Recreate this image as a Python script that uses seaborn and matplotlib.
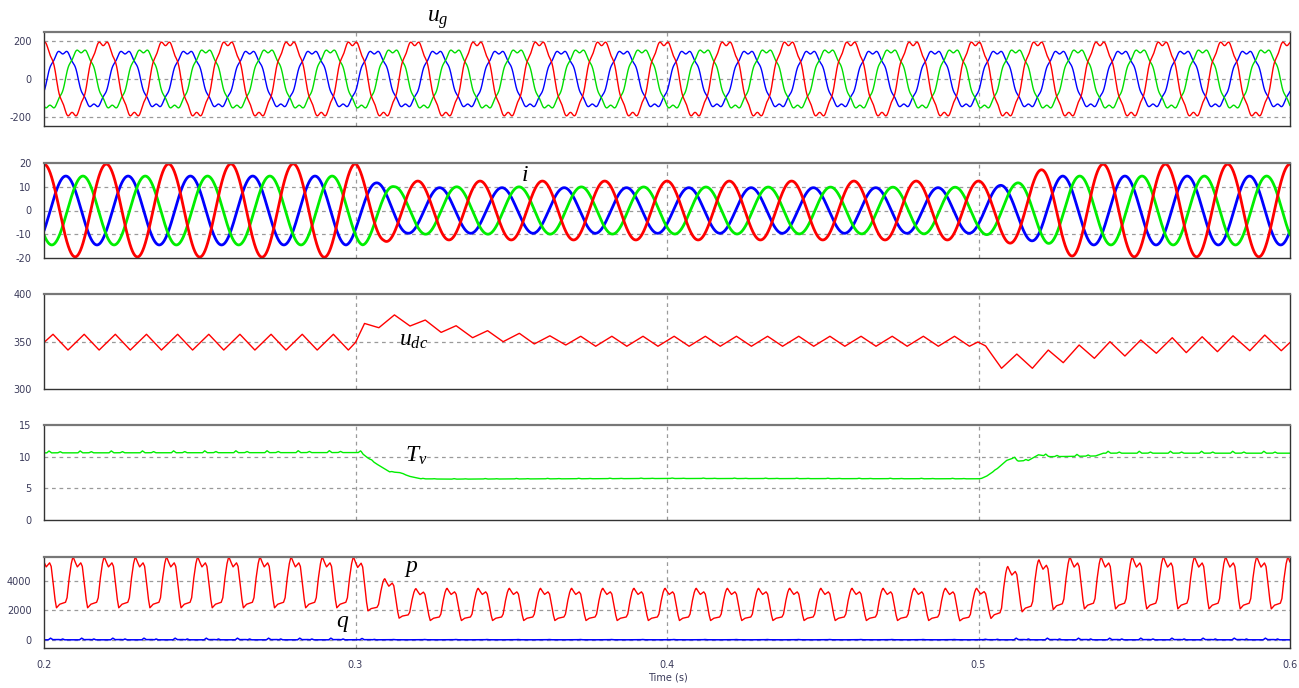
import numpy as np
import pandas as pd
import matplotlib
matplotlib.use("Agg")
import matplotlib.pyplot as plt
import seaborn as sns

# ------------------------------------------------------------------
# Values
# ------------------------------------------------------------------
t_range = [0.2, 0.6]
n_samples = 8001
f_line = 50.0                                   # fundamental (Hz)
f_ripple = 100.0                                # double-frequency ripple (Hz)

# grid voltage u_g (blue, green, red): amplitude, peak instant, harmonics
ug_colors = ["#0000ff", "#00dd00", "#ff0000"]
ug_amp = [153, 160, 204]
ug_peak_t = [0.2060, 0.2119, 0.1990]
ug_harm_order = [3, 7]
ug_harm_rel = [-0.08, -0.06]

# currents i (blue, green, red): peak instants and amplitude envelopes
i_colors = ["#0000ff", "#00ee00", "#ff0000"]
i_peak_t = [0.2070, 0.2125, 0.2000]
i_env_t = [
    [0.200, 0.297, 0.3066, 0.3166, 0.500, 0.510, 0.520, 0.527, 0.600],
    [0.200, 0.3023, 0.3125, 0.500, 0.512, 0.522, 0.530, 0.600],
    [0.200, 0.300, 0.309, 0.319, 0.504, 0.5135, 0.524, 0.534, 0.600],
]
i_env_a = [
    [14.5, 14.5, 11.7, 9.6, 9.6, 11.0, 13.5, 14.5, 14.5],
    [14.5, 14.5, 10.0, 9.8, 11.5, 13.8, 14.5, 14.5],
    [19.5, 19.7, 13.1, 12.4, 12.4, 14.5, 18.7, 19.5, 19.5],
]

# DC-link voltage u_dc: vertices (time, value)
udc_pre_peak = [357.6] * 10
udc_pre_trough = [341.0] * 10
udc_trans_t = [0.3000, 0.3029, 0.3075, 0.3125, 0.3175, 0.3224, 0.3275, 0.3323,
               0.3376, 0.3424, 0.3474, 0.3526, 0.3574, 0.3624, 0.3675]
udc_trans_v = [349.0, 369.0, 364.5, 378.0, 366.3, 372.6, 359.6, 366.6,
               354.0, 361.4, 349.8, 358.6, 347.4, 356.0, 346.3]
udc_mid_peak = [355.5] * 13
udc_mid_trough = [345.0] * 13
udc_post_t = [0.4998, 0.5023, 0.5074, 0.5123, 0.5173, 0.5224, 0.5272, 0.5323,
              0.5372, 0.5422, 0.5470, 0.5521, 0.5571, 0.5622, 0.5667, 0.5718,
              0.5767, 0.5817, 0.5871, 0.5919, 0.5972, 0.6000]
udc_post_v = [349.5, 345.3, 321.8, 336.8, 321.8, 341.0, 327.7, 346.3,
              332.3, 349.8, 334.7, 351.6, 337.6, 354.0, 338.3, 355.0,
              339.3, 356.0, 340.3, 356.8, 340.3, 349.0]

# virtual inertia T_v: base curve knots and ripple
tv_t = [0.200, 0.3018, 0.3034, 0.3066, 0.3109, 0.3141, 0.3173, 0.3210, 0.3300,
        0.4000, 0.5000, 0.5016, 0.5053, 0.5090, 0.5110, 0.5128, 0.5160, 0.5192,
        0.5230, 0.5375, 0.5400, 0.6000]
tv_v = [10.6, 10.65, 10.0, 8.9, 7.6, 7.5, 6.9, 6.5, 6.45,
        6.55, 6.5, 6.6, 7.8, 9.4, 9.75, 9.3, 9.4, 10.3,
        10.0, 10.1, 10.55, 10.55]
ripple_t = [0.200, 0.300, 0.310, 0.500, 0.510, 0.600]
tv_ripple = [0.30, 0.30, 0.08, 0.08, 0.30, 0.30]
q_ripple = [110, 110, 20, 20, 110, 110]
tv_shape_phi = [0.0, 0.15, 0.22, 0.30, 0.50, 0.58, 0.65, 1.0]
tv_shape_f = [0.0, 0.0, 1.0, 0.0, 0.0, 0.6, 0.0, 0.0]
q_base = 15
q_shape_phi = [0.0, 0.20, 0.27, 0.34, 0.50, 0.60, 0.66, 0.72, 1.0]
q_shape_f = [0.0, 0.0, 1.0, 0.1, 0.2, 0.0, 0.5, 0.0, 0.0]

# active power p: one-cycle shape (0=trough, 1=peak) and per-cycle extremes
p_first_peak_t = 0.1994
p_shape_phi = [0.00, 0.05, 0.13, 0.24, 0.29, 0.35, 0.41, 0.46, 0.56, 0.66,
               0.75, 0.80, 0.86, 0.93, 0.97, 1.00]
p_shape_f = [1.00, 0.92, 0.81, 0.89, 0.82, 0.52, 0.18, 0.00, 0.07, 0.09,
             0.11, 0.20, 0.55, 0.86, 0.97, 1.00]
p_peaks = [5600] * 10 + [5600, 4150, 3480] + [3500] * 18 + [4980, 5430] + [5600] * 8
p_troughs = [2180] * 10 + [1975, 1480] + [1320] * 17 + [1300, 1460, 1908, 2065] + [2110] * 7

# axes: ticks, limits, label text
panel_ylims = [(-247, 247), (-20, 20), (300, 400), (0, 15), (-540, 5620)]
panel_yticks = [[-200, 0, 200], [-20, -10, 0, 10, 20], [300, 350, 400],
                [0, 5, 10, 15], [0, 2000, 4000]]
x_ticks = [0.2, 0.3, 0.4, 0.5, 0.6]
x_tick_labels = ["0.2", "0.3", "0.4", "0.5", "0.6"]
x_grid = [0.3, 0.4, 0.5]
x_label = "Time (s)"
panel_names = [r"$u_g$", r"$i$", r"$u_{dc}$", r"$T_v$", r"$p$", r"$q$"]

# ------------------------------------------------------------------
# Build the series
# ------------------------------------------------------------------
t = np.linspace(t_range[0], t_range[1], n_samples)


def grid_voltage(amp, tp):
    th = 2 * np.pi * f_line * (t - tp)
    v = np.cos(th)
    for h, a in zip(ug_harm_order, ug_harm_rel):
        v = v + a * np.cos(h * th)
    return amp * v


ug = [grid_voltage(a, tp) for a, tp in zip(ug_amp, ug_peak_t)]
cur = [np.interp(t, et, ea) * np.cos(2 * np.pi * f_line * (t - tp))
       for et, ea, tp in zip(i_env_t, i_env_a, i_peak_t)]

# u_dc vertices
udc_t = [0.2000]
udc_v = [349.0]
for k in range(10):
    udc_t += [0.2029 + 0.01 * k, 0.2077 + 0.01 * k]
    udc_v += [udc_pre_peak[k], udc_pre_trough[k]]
udc_t += udc_trans_t
udc_v += udc_trans_v
for k in range(13):
    udc_t += [0.3723 + 0.01 * k, 0.3771 + 0.01 * k]
    udc_v += [udc_mid_peak[k], udc_mid_trough[k]]
udc_t += udc_post_t
udc_v += udc_post_v

# p from cycle shape
k_idx = np.floor((t - p_first_peak_t) / 0.01).astype(int)
phi = (t - p_first_peak_t) / 0.01 - k_idx
fshape = np.interp(phi, p_shape_phi, p_shape_f)
pk = np.array(p_peaks)
tr = np.array(p_troughs)
k_c = np.clip(k_idx, 0, len(tr) - 1)
hi = np.where(phi < 0.46, pk[k_c], pk[np.clip(k_c + 1, 0, len(pk) - 1)])
p = tr[k_c] + (hi - tr[k_c]) * fshape

phi_r = ((t - p_first_peak_t) * f_ripple) % 1.0
tv = np.interp(t, tv_t, tv_v) + np.interp(t, ripple_t, tv_ripple) * np.interp(phi_r, tv_shape_phi, tv_shape_f)
q = q_base + np.interp(t, ripple_t, q_ripple) * np.interp(phi_r, q_shape_phi, q_shape_f)

# ------------------------------------------------------------------
# Draw
# ------------------------------------------------------------------
sns.set_style("white")
plt.rcParams["mathtext.fontset"] = "custom"
plt.rcParams["mathtext.it"] = "Liberation Serif:italic"
plt.rcParams["mathtext.rm"] = "Liberation Serif"
plt.rcParams["font.family"] = ["DejaVu Sans"]

W, H = 1299, 688
fig = plt.figure(figsize=(W / 100, H / 100), dpi=100)
panel_px = [(32, 126), (163, 258), (294, 389), (425, 520), (557, 648)]
left_px, right_px = 44, 1290
axes = []
for top, bot in panel_px:
    ax = fig.add_axes([left_px / W, 1 - bot / H, (right_px - left_px) / W, (bot - top) / H])
    axes.append(ax)


def line(ax, x, y, color, lw):
    sns.lineplot(x=x, y=y, ax=ax, color=color, linewidth=lw,
                 estimator=None, sort=False, legend=False)


for v, c in zip(ug, ug_colors):
    line(axes[0], t, v, c, 1.0)
for v, c in zip(cur, i_colors):
    line(axes[1], t, v, c, 2.0)
line(axes[2], np.array(udc_t), np.array(udc_v), "#ff0000", 1.0)
line(axes[3], t, tv, "#00ee00", 1.0)
line(axes[4], t, p, "#ff0000", 1.0)
line(axes[4], t, q, "#0000ff", 1.1)

for i, ax in enumerate(axes):
    ax.set_xlim(*t_range)
    ax.set_ylim(*panel_ylims[i])
    ax.set_yticks(panel_yticks[i])
    ax.set_yticklabels([str(v) for v in panel_yticks[i]])
    ax.set_xticks(x_ticks)
    if i == len(axes) - 1:
        ax.set_xticklabels(x_tick_labels)
    else:
        ax.set_xticklabels([])
    ax.tick_params(axis="both", length=0, labelsize=7, labelcolor="#3a3a5a")
    ax.tick_params(axis="y", pad=9)
    ax.tick_params(axis="x", pad=9)
    ax.set_xlabel("")
    ax.set_ylabel("")
    lo, hi_ = panel_ylims[i]
    for yv in panel_yticks[i]:
        if lo < yv < hi_:
            ax.axhline(yv, color="#9a9a9a", lw=0.9, ls=(0, (3, 3)), zorder=0)
    for xv in x_grid:
        ax.axvline(xv, color="#9a9a9a", lw=0.9, ls=(0, (3, 3)), zorder=0)
    for s in ["left", "right", "bottom"]:
        ax.spines[s].set_color("#333333")
        ax.spines[s].set_linewidth(1.0)
    ax.spines["top"].set_color("#777777")
    ax.spines["top"].set_linewidth(1.6)

fig.text(668 / W, 1 - 677 / H, x_label, ha="center", va="center",
         fontsize=7, color="#3a3a5a")

label_px = [(427, 22), (521, 181), (399, 346), (405, 462), (404, 572), (336, 627)]
for name, (lx, ly) in zip(panel_names, label_px):
    fig.text(lx / W, 1 - ly / H, name, ha="left", va="baseline",
             fontsize=17, color="black")

fig.savefig("out.png", dpi=100, facecolor="white")
